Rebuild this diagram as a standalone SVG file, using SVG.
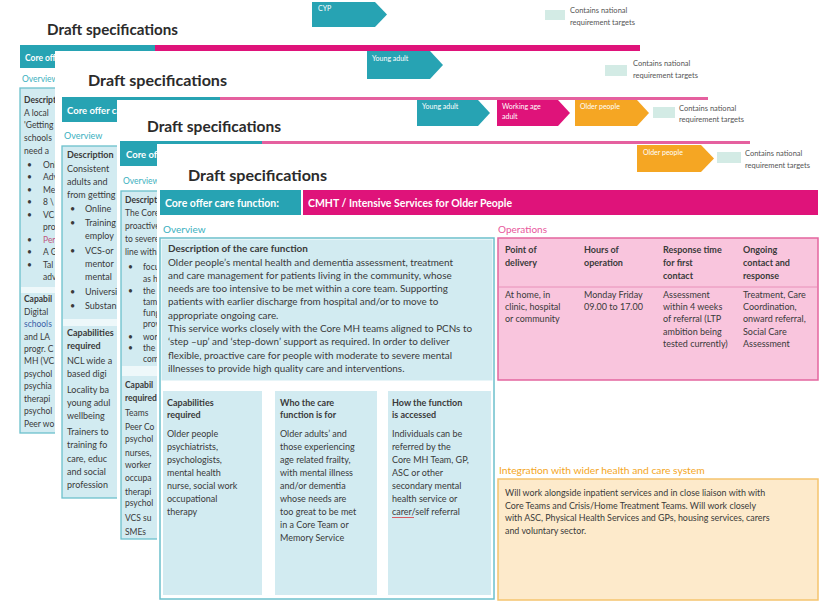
<svg xmlns="http://www.w3.org/2000/svg" width="834" height="605" viewBox="0 0 834 605">
<style>
text{font-family:Lato,"Liberation Sans",sans-serif;fill:#3a3a3a}
.title{font-weight:bold;font-size:15.5px;fill:#2b2b2b}
.barT{font-weight:bold;fill:#fff}
.chev{font-size:7px;fill:#fff}
.leg{font-size:7.5px;fill:#555}
.sw{fill:#d3ebe5}
.teal{fill:#27a3b3}
.pink{fill:#df137a}
.orange{fill:#f5a623}
.box{fill:#d2ebf1;stroke:#6cc0cc;stroke-width:1.3}
.cell{fill:#d2ebf1}
.sm{font-size:8.5px}
.b{font-weight:bold}
.lbl{font-size:10px}
.t10{font-size:9.9px}
.t9{font-size:9px}
.white{fill:#fff}
</style>

<rect x="0" y="0" width="834" height="605" fill="#fff"/>

<!-- Slide 1 (back) -->
<g id="slide1">
  <text class="title" x="47" y="35" textLength="131" lengthAdjust="spacingAndGlyphs">Draft specifications</text>
  <polygon class="teal" points="312,2 375,2 387,14.5 375,27 312,27"/>
  <text class="chev" x="318" y="11">CYP</text>
  <rect class="sw" x="545" y="10" width="20" height="10"/>
  <text class="leg" x="570" y="13">Contains national</text>
  <text class="leg" x="570" y="25">requirement targets</text>
  <rect class="teal" x="20" y="45" width="135" height="23"/>
  <rect class="pink" x="155" y="45" width="485" height="23"/>
  <text class="barT" x="25" y="61" font-size="8.5">Core offer</text>
  <text x="22" y="82" font-size="8.5" fill="#3ab0c0" style="fill:#3ab0c0">Overview</text>
  <rect class="box" x="20" y="88" width="60" height="345"/>
  <rect x="21" y="287" width="58" height="6" fill="#eef8fa"/>
  <g class="sm">
    <text class="b" x="24" y="103">Description</text>
    <text x="24" y="116">A local</text>
    <text x="24" y="128">'Getting</text>
    <text x="24" y="141">schools</text>
    <text x="24" y="154">need a</text>
    <text x="27" y="168">•</text><text x="43" y="168">Onl</text>
    <text x="27" y="180">•</text><text x="43" y="180">Adv</text>
    <text x="27" y="193">•</text><text x="43" y="193">Me</text>
    <text x="27" y="205">•</text><text x="43" y="205">8 \</text>
    <text x="27" y="218">•</text><text x="43" y="218">VC</text>
    <text x="43" y="230">pro</text>
    <text x="27" y="243">•</text><text x="43" y="243" style="fill:#c0567f">Per</text>
    <text x="27" y="255">•</text><text x="43" y="255">A G</text>
    <text x="27" y="268">•</text><text x="43" y="268">Tal</text>
    <text x="43" y="280">adv</text>
    <text class="b" x="24" y="302">Capabil</text>
    <text x="24" y="315">Digital</text>
    <text x="24" y="327" style="fill:#3a5fa8">schools</text>
    <text x="24" y="340">and LA</text>
    <text x="24" y="352">progr. C</text>
    <text x="24" y="364">MH (VC</text>
    <text x="24" y="377">psychol</text>
    <text x="24" y="389">psychia</text>
    <text x="24" y="402">therapi</text>
    <text x="24" y="414">psychol</text>
    <text x="24" y="427">Peer wo</text>
  </g>
</g>

<!-- Slide 2 -->
<g id="slide2">
  <rect x="55" y="51" width="670" height="554" fill="#fff"/>
  <text class="title" x="88" y="86" textLength="139" lengthAdjust="spacingAndGlyphs">Draft specifications</text>
  <polygon class="teal" points="367,51 430,51 443,65 430,79 367,79"/>
  <text class="chev" x="372" y="61">Young adult</text>
  <rect class="sw" x="605" y="65" width="22" height="11"/>
  <text class="leg" x="633" y="66">Contains national</text>
  <text class="leg" x="633" y="78">requirement targets</text>
  <rect class="teal" x="62" y="97" width="158" height="25"/>
  <rect x="220" y="97" width="488" height="25" fill="#e5609f"/>
  <text class="barT" x="67" y="114" font-size="9.5">Core offer care function:</text>
  <text x="64" y="139" font-size="9" style="fill:#3ab0c0">Overview</text>
  <rect class="box" x="62" y="146" width="80" height="352"/>
  <rect x="63" y="319" width="78" height="7" fill="#eef8fa"/>
  <g class="t9">
    <text class="b" x="67" y="158">Description</text>
    <text x="67" y="172">Consistent</text>
    <text x="67" y="185">adults and</text>
    <text x="67" y="198">from getting</text>
    <text x="70" y="212">•</text><text x="85" y="212">Online</text>
    <text x="70" y="226">•</text><text x="85" y="226">Training</text>
    <text x="85" y="239">employ</text>
    <text x="70" y="254">•</text><text x="85" y="254">VCS-or</text>
    <text x="85" y="267">mentor</text>
    <text x="85" y="280">mental</text>
    <text x="70" y="295">•</text><text x="85" y="295">Universi</text>
    <text x="70" y="309">•</text><text x="85" y="309">Substan</text>
    <text class="b" x="67" y="336">Capabilities</text>
    <text class="b" x="67" y="349">required</text>
    <text x="67" y="364">NCL wide a</text>
    <text x="67" y="377">based digi</text>
    <text x="67" y="393">Locality ba</text>
    <text x="67" y="406">young adul</text>
    <text x="67" y="419">wellbeing</text>
    <text x="67" y="435">Trainers to</text>
    <text x="67" y="448">training fo</text>
    <text x="67" y="462">care, educ</text>
    <text x="67" y="475">and social</text>
    <text x="67" y="488">profession</text>
  </g>
</g>

<!-- Slide 3 -->
<g id="slide3">
  <rect x="117" y="100" width="660" height="505" fill="#fff"/>
  <text class="title" x="147" y="132" textLength="134" lengthAdjust="spacingAndGlyphs">Draft specifications</text>
  <polygon class="teal" points="417,100 478,100 490,113 478,126 417,126"/>
  <text class="chev" x="422" y="109">Young adult</text>
  <polygon class="pink" points="497,100 558,100 570,113 558,126 497,126"/>
  <text class="chev" x="502" y="109">Working age</text>
  <text class="chev" x="502" y="119">adult</text>
  <polygon class="orange" points="575,100 637,100 649,113 637,126 575,126"/>
  <text class="chev" x="580" y="109">Older people</text>
  <rect class="sw" x="653" y="107" width="22" height="11"/>
  <text class="leg" x="679" y="111">Contains national</text>
  <text class="leg" x="679" y="122">requirement targets</text>
  <rect class="teal" x="120" y="141" width="142" height="25"/>
  <rect x="262" y="141" width="488" height="25" fill="#e5609f"/>
  <text class="barT" x="126" y="158" font-size="9.5">Core offer</text>
  <text x="123" y="184" font-size="8.5" style="fill:#3ab0c0">Overview</text>
  <rect class="box" x="121" y="191" width="60" height="348"/>
  <rect x="122" y="366" width="58" height="10" fill="#eef8fa"/>
  <g class="sm">
    <text class="b" x="125" y="203">Description</text>
    <text x="125" y="216">The Core</text>
    <text x="125" y="229">proactive</text>
    <text x="125" y="242">to severe</text>
    <text x="125" y="255">line with</text>
    <text x="128" y="270">•</text><text x="143" y="270">focus</text>
    <text x="143" y="282">as h</text>
    <text x="128" y="294">•</text><text x="143" y="294">the</text>
    <text x="143" y="305">tam</text>
    <text x="143" y="316">fung</text>
    <text x="143" y="327">prov</text>
    <text x="128" y="340">•</text><text x="143" y="340">wor</text>
    <text x="128" y="351">•</text><text x="143" y="351">the</text>
    <text x="143" y="362">com</text>
    <text class="b" x="125" y="388">Capabil</text>
    <text class="b" x="125" y="401">required</text>
    <text x="125" y="416">Teams</text>
    <text x="125" y="430">Peer Co</text>
    <text x="125" y="442">psychol</text>
    <text x="125" y="456">nurses,</text>
    <text x="125" y="468">worker</text>
    <text x="125" y="481">occupa</text>
    <text x="125" y="495">therapi</text>
    <text x="125" y="506">psychol</text>
    <text x="125" y="521">VCS su</text>
    <text x="125" y="535">SMEs</text>
  </g>
</g>

<!-- Slide 4 (front) -->
<g id="slide4">
  <rect x="157" y="144" width="677" height="461" fill="#fff"/>
  <text class="title" x="188" y="181" textLength="139" lengthAdjust="spacingAndGlyphs">Draft specifications</text>
  <polygon class="orange" points="637,145 701,145 714,158.5 701,172 637,172"/>
  <text class="chev" x="643" y="155">Older people</text>
  <rect class="sw" x="717" y="152" width="24" height="11"/>
  <text class="leg" x="745" y="156">Contains national</text>
  <text class="leg" x="745" y="168">requirement targets</text>
</g>

<g id="header-bar">
  <rect class="teal" x="160" y="190" width="141" height="25"/>
  <rect class="pink" x="303" y="190" width="515" height="25"/>
  <text class="barT" x="165" y="206.5" font-size="10.5">Core offer care function:</text>
  <text class="barT" x="308" y="206.5" font-size="10.5">CMHT / Intensive Services for Older People</text>
</g>

<g id="overview">
  <text class="lbl" x="163" y="233" style="fill:#3ab0c0">Overview</text>
  <rect x="160" y="238" width="334" height="361" fill="#fff" stroke="#6cc0cc" stroke-width="1.5"/>
  <rect class="cell" x="161.5" y="239.5" width="331" height="141"/>
  <g class="t10">
    <text class="b" x="168" y="252">Description of the care function</text>
    <text x="168" y="265.5">Older people’s mental health and dementia assessment, treatment</text>
    <text x="168" y="278.5">and care management for patients living in the community, whose</text>
    <text x="168" y="292">needs are too intensive to be met within a core team. Supporting</text>
    <text x="168" y="305">patients with earlier discharge from hospital and/or to move to</text>
    <text x="168" y="318.5">appropriate ongoing care.</text>
    <text x="168" y="332">This service works closely with the Core MH teams aligned to PCNs to</text>
    <text x="168" y="345">‘step –up’ and ‘step-down’ support  as required. In order to deliver</text>
    <text x="168" y="358.5">flexible, proactive care for people with moderate to severe mental</text>
    <text x="168" y="372">illnesses to provide high quality care and interventions.</text>
  </g>
</g>

<g id="capabilities">
  <rect class="cell" x="163" y="391" width="99" height="204"/>
  <g class="t9">
    <text class="b" x="167" y="406">Capabilities</text>
    <text class="b" x="167" y="418">required</text>
    <text x="167" y="437">Older people</text>
    <text x="167" y="450">psychiatrists,</text>
    <text x="167" y="463">psychologists,</text>
    <text x="167" y="476">mental health</text>
    <text x="167" y="489">nurse, social work</text>
    <text x="167" y="502">occupational</text>
    <text x="167" y="515">therapy</text>
  </g>
</g>

<g id="who-for">
  <rect class="cell" x="275" y="391" width="102" height="204"/>
  <g class="t9">
    <text class="b" x="280" y="406">Who the care</text>
    <text class="b" x="280" y="418">function is for</text>
    <text x="280" y="437">Older adults’ and</text>
    <text x="280" y="450">those experiencing</text>
    <text x="280" y="463">age related frailty,</text>
    <text x="280" y="476">with mental illness</text>
    <text x="280" y="489">and/or dementia</text>
    <text x="280" y="502">whose needs are</text>
    <text x="280" y="515">too great to be met</text>
    <text x="280" y="528">in a Core Team or</text>
    <text x="280" y="541">Memory Service</text>
  </g>
</g>

<g id="how-accessed">
  <rect class="cell" x="388" y="391" width="103" height="204"/>
  <g class="t9">
    <text class="b" x="392" y="406">How the function</text>
    <text class="b" x="392" y="418">is accessed</text>
    <text x="392" y="437">Individuals can be</text>
    <text x="392" y="450">referred by the</text>
    <text x="392" y="463">Core MH Team, GP,</text>
    <text x="392" y="476">ASC or other</text>
    <text x="392" y="489">secondary mental</text>
    <text x="392" y="502">health service or</text>
    <text x="392" y="515">carer/self referral</text>
  </g>
  <line x1="392" y1="517.5" x2="414" y2="517.5" stroke="#d9363e" stroke-width="0.8"/>
</g>

<g id="operations">
  <text class="lbl" x="498" y="233" style="fill:#e8579c">Operations</text>
  <rect x="498" y="238" width="320" height="142" fill="#f9c5dd" stroke="#e3669f" stroke-width="1.5"/>
  <line x1="499" y1="287" x2="817" y2="287" stroke="#e890b9" stroke-width="1"/>
  <g class="t9">
    <text class="b" x="505" y="253">Point of</text>
    <text class="b" x="505" y="266">delivery</text>
    <text class="b" x="584" y="253">Hours of</text>
    <text class="b" x="584" y="266">operation</text>
    <text class="b" x="663" y="253">Response time</text>
    <text class="b" x="663" y="266">for first</text>
    <text class="b" x="663" y="279">contact</text>
    <text class="b" x="743" y="253">Ongoing</text>
    <text class="b" x="743" y="266">contact and</text>
    <text class="b" x="743" y="279">response</text>
    <text x="505" y="298">At home, in</text>
    <text x="505" y="310">clinic, hospital</text>
    <text x="505" y="322">or community</text>
    <text x="584" y="298">Monday Friday</text>
    <text x="584" y="310">09.00 to 17.00</text>
    <text x="663" y="298">Assessment</text>
    <text x="663" y="310">within 4 weeks</text>
    <text x="663" y="322">of referral (LTP</text>
    <text x="663" y="335">ambition being</text>
    <text x="663" y="347">tested currently)</text>
    <text x="743" y="298">Treatment, Care</text>
    <text x="743" y="310">Coordination,</text>
    <text x="743" y="322">onward referral,</text>
    <text x="743" y="335">Social Care</text>
    <text x="743" y="347">Assessment</text>
  </g>
</g>

<g id="integration">
  <text x="499" y="474" font-size="10.3" style="fill:#f4a623">Integration with wider health and care system</text>
  <rect x="498" y="479" width="320" height="121" fill="#fdeacb" stroke="#f5c46e" stroke-width="1.5"/>
  <g font-size="8.9">
    <text x="505" y="496">Will work alongside inpatient services and in close liaison with with</text>
    <text x="505" y="508.5">Core Teams and Crisis/Home Treatment Teams. Will work closely</text>
    <text x="505" y="521">with ASC, Physical Health Services and GPs, housing services, carers</text>
    <text x="505" y="533.5">and voluntary sector.</text>
  </g>
</g>
</svg>
